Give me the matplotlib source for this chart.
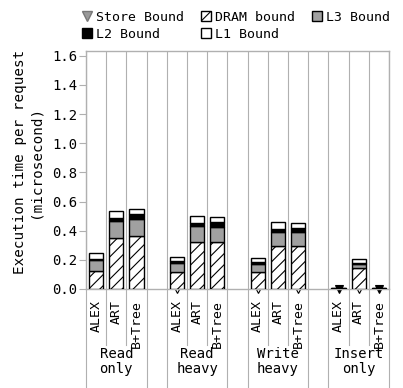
import matplotlib
matplotlib.use("Agg")
import matplotlib.pyplot as plt
import numpy as np
from matplotlib.lines import Line2D
from matplotlib.patches import Patch

plt.rcParams['font.family'] = ['DejaVu Sans Mono']
plt.rcParams['hatch.linewidth'] = 0.8

groups = ["Read\nonly", "Read\nheavy", "Write\nheavy", "Insert\nonly"]
indexes = ["ALEX", "ART", "B+Tree"]

# per group: ALEX, ART, B+Tree
dram = [[0.124, 0.348, 0.364], [0.119, 0.325, 0.320], [0.115, 0.297, 0.295], [0.002, 0.142, 0.002]]
l3   = [[0.075, 0.121, 0.119], [0.058, 0.110, 0.107], [0.055, 0.096, 0.096], [0.000, 0.030, 0.000]]
l2   = [[0.005, 0.021, 0.032], [0.014, 0.018, 0.032], [0.016, 0.016, 0.027], [0.007, 0.004, 0.007]]
l1   = [[0.040, 0.044, 0.032], [0.027, 0.048, 0.032], [0.025, 0.048, 0.032], [0.000, 0.032, 0.000]]
store = [[np.nan, np.nan, np.nan], [0.0, np.nan, np.nan], [0.0, np.nan, 0.0], [0.0, 0.0, 0.0]]

yticks = [0.0, 0.2, 0.4, 0.6, 0.8, 1.0, 1.2, 1.4, 1.6]

fig = plt.figure(figsize=(4.03, 3.88), dpi=100)
ax = fig.add_axes([86/403, 1 - 289/388, (389-86)/403, (289-50.7)/388])

grid_c = '#b0b0b0'
width = 0.7
pos, labels = [], []
for g in range(len(groups)):
    for i in range(len(indexes)):
        x = g * 4 + i
        pos.append(x)
        labels.append(indexes[i])
        b = 0
        ax.bar(x, dram[g][i], width, bottom=b, color='white', edgecolor='black', hatch='///', lw=1.0, zorder=3)
        b += dram[g][i]
        ax.bar(x, l3[g][i], width, bottom=b, color='#a0a0a0', edgecolor='black', lw=1.0, zorder=3)
        b += l3[g][i]
        ax.bar(x, l2[g][i], width, bottom=b, color='black', edgecolor='black', lw=1.0, zorder=3)
        b += l2[g][i]
        ax.bar(x, l1[g][i], width, bottom=b, color='white', edgecolor='black', lw=1.0, zorder=3)
        if not np.isnan(store[g][i]):
            fc = 'black' if (g == 3 and i != 1) else 'white'
            ax.plot([x], [store[g][i]], marker='v', ms=5.5, mfc=fc, mec='black', mew=0.8,
                    ls='none', zorder=2, clip_on=False)

ax.set_xlim(-0.5, 14.5)
ax.set_ylim(0, 1.635)
ax.set_yticks(yticks)
ax.set_yticklabels([f"{v:.1f}" for v in yticks], fontsize=10)
ax.tick_params(axis='y', length=5, color=grid_c, pad=1)
ax.set_xticks(pos)
ax.set_xticklabels(labels, rotation=90, fontsize=9.5, va='top')
ax.tick_params(axis='x', length=0, pad=8)
for s in ax.spines.values():
    s.set_color(grid_c)
    s.set_linewidth(1.0)

# slot boundaries
group_edges = set()
for g in range(4):
    group_edges.add(g * 4 - 0.5)
    group_edges.add(g * 4 + 2.5)
for k in range(16):
    xb = k - 0.5
    ax.axvline(xb, color=grid_c, lw=0.8, zorder=1)
    ybot = -0.41 if xb in group_edges else -0.235
    ax.plot([xb, xb], [0, ybot], transform=ax.get_xaxis_transform(), color=grid_c, lw=0.8, clip_on=False)

for g, name in enumerate(groups):
    ax.text(g * 4 + 1, -0.243, name, transform=ax.get_xaxis_transform(), ha='center', va='top',
            fontsize=10, linespacing=1.1)

ax.set_ylabel("Execution time per request\n(microsecond)", fontsize=10.3, linespacing=1.05)
ax.yaxis.set_label_coords((42 - 86) / 303, (289 - 162) / 238.3)

handles = [
    Line2D([], [], marker='v', ls='none', mfc='#999999', mec='#777777', ms=7),
    Patch(facecolor='black', edgecolor='black'),
    Patch(facecolor='white', edgecolor='black', hatch='///'),
    Patch(facecolor='white', edgecolor='black'),
    Patch(facecolor='#a0a0a0', edgecolor='black'),
]
names = ["Store Bound", "L2 Bound", "DRAM bound", "L1 Bound", "L3 Bound"]
fig.legend(handles, names, ncol=3, loc='upper left', bbox_to_anchor=(74/403, 1 - 3/388), frameon=False,
           fontsize=9.5, handlelength=0.8, handleheight=0.8, handletextpad=0.3, columnspacing=1.25,
           labelspacing=0.3, borderaxespad=0.2)

fig.savefig("out.png", dpi=100)
